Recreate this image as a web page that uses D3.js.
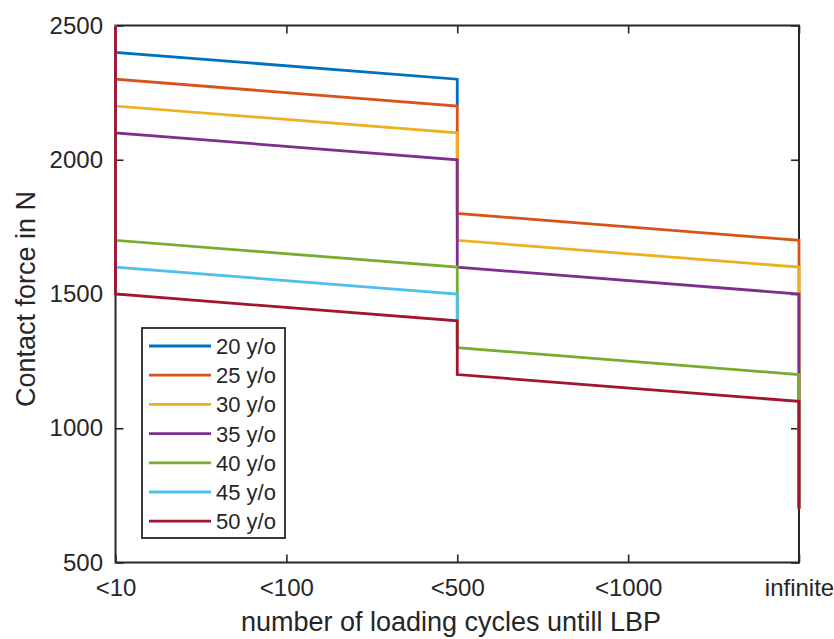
<!DOCTYPE html>
<html>
<head>
<meta charset="utf-8">
<script src="https://cdn.jsdelivr.net/npm/d3@7"></script>
<style>
  html, body { margin: 0; padding: 0; background: #fff; }
  svg { display: block; font-family: "Liberation Sans", Arial, Helvetica, sans-serif; }
</style>
</head>
<body>
<svg id="chart" width="834" height="639"></svg>
<script>
// ---- data ----
const categories = ["<10", "<100", "<500", "<1000", "infinite"];
const yTicks = [500, 1000, 1500, 2000, 2500];
const ages = ["20 y/o", "25 y/o", "30 y/o", "35 y/o", "40 y/o", "45 y/o", "50 y/o"];
const colors = ["#0072BD", "#D95319", "#EDB120", "#7E2F8E", "#77AC30", "#4DBEEE", "#A2142F"];
// x position (category index) of each vertex in the step lines
const stepX = [0, 0, 2, 2, 4, 4];
// contact force at each vertex, per age group (null = not drawn)
const force20 = [2500, 2400, 2300, 2200, null, null];
const force25 = [2500, 2300, 2200, 1800, 1700, 700];
const force30 = [2500, 2200, 2100, 1700, 1600, 700];
const force35 = [2500, 2100, 2000, 1600, 1500, 700];
const force40 = [2500, 1700, 1600, 1300, 1200, 700];
const force45 = [2500, 1600, 1500, 1400, null, null];
const force50 = [2500, 1500, 1400, 1200, 1100, 700];
const seriesValues = [force20, force25, force30, force35, force40, force45, force50];

// ---- layout ----
const svg = d3.select("#chart");
const pL = 115.5, pR = 799, pT = 25.5, pB = 562.5;
const axisColor = "#262626";
const x = d3.scaleLinear().domain([0, categories.length - 1]).range([pL, pR]);
const y = d3.scaleLinear().domain([500, 2500]).range([pB, pT]);

// axes
const gx = svg.append("g").attr("transform", `translate(0,${pB})`)
  .call(d3.axisBottom(x).tickValues(d3.range(categories.length))
    .tickFormat(i => categories[i]).tickSizeInner(-8).tickSizeOuter(0).tickPadding(16));
const gy = svg.append("g").attr("transform", `translate(${pL},0)`)
  .call(d3.axisLeft(y).tickValues(yTicks).tickFormat(d3.format("d"))
    .tickSizeInner(-8).tickSizeOuter(0).tickPadding(12.5));
const gt = svg.append("g").attr("transform", `translate(0,${pT})`)
  .call(d3.axisTop(x).tickValues(d3.range(categories.length)).tickFormat("").tickSizeInner(-8).tickSizeOuter(0));
const gr = svg.append("g").attr("transform", `translate(${pR},0)`)
  .call(d3.axisRight(y).tickValues(yTicks).tickFormat("").tickSizeInner(-8).tickSizeOuter(0));
[gx, gy, gt, gr].forEach(g => {
  g.select(".domain").remove();
  g.selectAll(".tick line").attr("stroke", axisColor).attr("stroke-width", 1.6);
  g.selectAll(".tick text").attr("fill", axisColor).style("font-size", "24px")
   .style("font-family", "'Liberation Sans', Arial, sans-serif");
});

// box
svg.append("rect").attr("x", pL).attr("y", pT)
  .attr("width", pR - pL).attr("height", pB - pT)
  .attr("fill", "none").attr("stroke", axisColor).attr("stroke-width", 2);

// series
const line = d3.line().defined(d => d !== null).x((d, i) => x(stepX[i])).y(d => y(d));
seriesValues.forEach((vals, k) => {
  svg.append("path").datum(vals)
    .attr("d", line)
    .attr("fill", "none")
    .attr("stroke", colors[k])
    .attr("stroke-width", 2.8)
    .attr("stroke-linejoin", "miter");
});

// axis labels
svg.append("text").attr("x", 451).attr("y", 631).attr("text-anchor", "middle")
  .attr("fill", axisColor).style("font-size", "27px")
  .text("number of loading cycles untill LBP");
svg.append("text").attr("transform", "translate(35,299) rotate(-90)").attr("text-anchor", "middle")
  .attr("fill", axisColor).style("font-size", "27px")
  .text("Contact force in N");

// legend
const lg = svg.append("g");
lg.append("rect").attr("x", 142).attr("y", 328).attr("width", 143).attr("height", 210)
  .attr("fill", "#fff").attr("stroke", axisColor).attr("stroke-width", 1.8);
ages.forEach((a, k) => {
  const cy = 346 + k * 29.2;
  lg.append("line").attr("x1", 149).attr("x2", 211).attr("y1", cy).attr("y2", cy)
    .attr("stroke", colors[k]).attr("stroke-width", 2.8);
  lg.append("text").attr("x", 216).attr("y", cy).attr("dy", "0.36em")
    .attr("fill", axisColor).style("font-size", "22px").text(a);
});
</script>
</body>
</html>
